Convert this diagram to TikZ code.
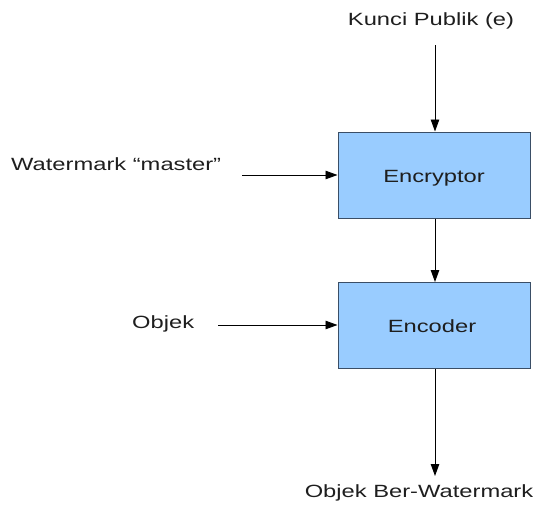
\documentclass[tikz,border=0pt]{standalone}
\usepackage{fontspec}
\setmainfont{Liberation Sans}[FakeStretch=1.34]
\usetikzlibrary{arrows.meta}
\definecolor{boxfill}{HTML}{99CCFF}
\definecolor{boxline}{HTML}{3A4E66}
\definecolor{txt}{HTML}{1E1E1E}
\begin{document}
\begin{tikzpicture}[x=1pt,y=-1pt,
  lbl/.style={inner sep=0pt,text=txt,font=\fontsize{17.7}{20}\selectfont},
  blk/.style={draw=boxline,fill=boxfill,line width=1pt,minimum width=192pt,minimum height=86pt,inner sep=0pt},
  flow/.style={line width=0.9pt,-{Triangle[width=8.5pt,length=12pt]}}]
\useasboundingbox (0,0) rectangle (533,506);
\node[blk] (enc) at (434,175) {};
\node[blk] (cod) at (434,325.5) {};
\node[lbl,anchor=base] (enct) at (434,182) {Encryptor};
\node[lbl,anchor=base] (codt) at (432,332) {Encoder};
\node[lbl,anchor=base] (kunci) at (431,25) {Kunci Publik (e)};
\node[lbl,anchor=base west] (wm) at (11,170) {Watermark “master”};
\node[lbl,anchor=base west] (obj) at (132,328) {Objek};
\node[lbl,anchor=base] (out) at (419,497) {Objek Ber-Watermark};
\coordinate (k0) at (435,45);
\coordinate (w0) at (242,175);
\coordinate (o0) at (218,325);
\coordinate (e0) at (435,476);
\draw[flow] (k0) -- (k0 |- enc.north);
\draw[flow] (w0) -- (w0 -| enc.west);
\draw[flow] (o0) -- (o0 -| cod.west);
\draw[flow] (enc.south -| k0) -- (cod.north -| k0);
\draw[flow] (cod.south -| k0) -- (e0);
\end{tikzpicture}
\end{document}
